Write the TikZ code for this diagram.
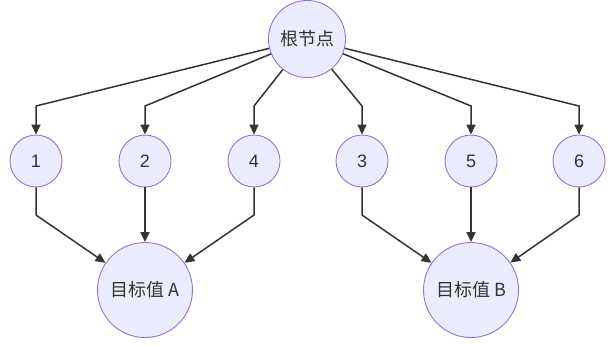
\documentclass[tikz,border=0pt]{standalone}
\usepackage{fontspec}
\setmainfont{Liberation Sans}
\newfontfamily\cjk{Noto Sans CJK SC}
\usetikzlibrary{arrows.meta}
\definecolor{nodefill}{HTML}{ECECFF}
\definecolor{nodeline}{HTML}{9370DB}
\definecolor{edgecol}{HTML}{333333}
\definecolor{txtcol}{HTML}{333333}
\tikzset{
  circnode/.style={circle, draw=nodeline, fill=nodefill, line width=0.9pt, inner sep=0pt, text=txtcol, font=\fontsize{18}{21}\selectfont},
  smallnode/.style={circnode, minimum size=52pt},
  bignode/.style={circnode, minimum size=95pt},
  rootnode/.style={circnode, minimum size=77pt},
  edge/.style={draw=edgecol, line width=1.5pt, -{Triangle[length=10pt,width=9pt]}}
}
\begin{document}
\begin{tikzpicture}[x=1pt,y=-1pt]
\useasboundingbox (0,0) rectangle (612,345);
\node[rootnode] (root) at (307,39) {\cjk 根节点};
\node[smallnode] (n1) at (36,161) {1};
\node[smallnode] (n2) at (145,161) {2};
\node[smallnode] (n4) at (254,161) {4};
\node[smallnode] (n3) at (362,161) {3};
\node[smallnode] (n5) at (471,161) {5};
\node[smallnode] (n6) at (579,161) {6};
\node[bignode] (A) at (145,290) {\cjk 目标值 A};
\node[bignode] (B) at (471,290) {\cjk 目标值 B};
\coordinate (t1) at (36,106);
\coordinate (t2) at (145,106);
\coordinate (t4) at (254,106);
\coordinate (t3) at (362,106);
\coordinate (t5) at (471,106);
\coordinate (t6) at (579,106);
\coordinate (b1) at (36,215);
\coordinate (b4) at (254,215);
\coordinate (b3) at (362,215);
\coordinate (b6) at (579,215);
\draw[edge] (root) -- (t1) -- (n1);
\draw[edge] (root) -- (t2) -- (n2);
\draw[edge] (root) -- (t4) -- (n4);
\draw[edge] (root) -- (t3) -- (n3);
\draw[edge] (root) -- (t5) -- (n5);
\draw[edge] (root) -- (t6) -- (n6);
\draw[edge] (n1) -- (b1) -- (A);
\draw[edge] (n2) -- (A);
\draw[edge] (n4) -- (b4) -- (A);
\draw[edge] (n3) -- (b3) -- (B);
\draw[edge] (n5) -- (B);
\draw[edge] (n6) -- (b6) -- (B);
\end{tikzpicture}
\end{document}
